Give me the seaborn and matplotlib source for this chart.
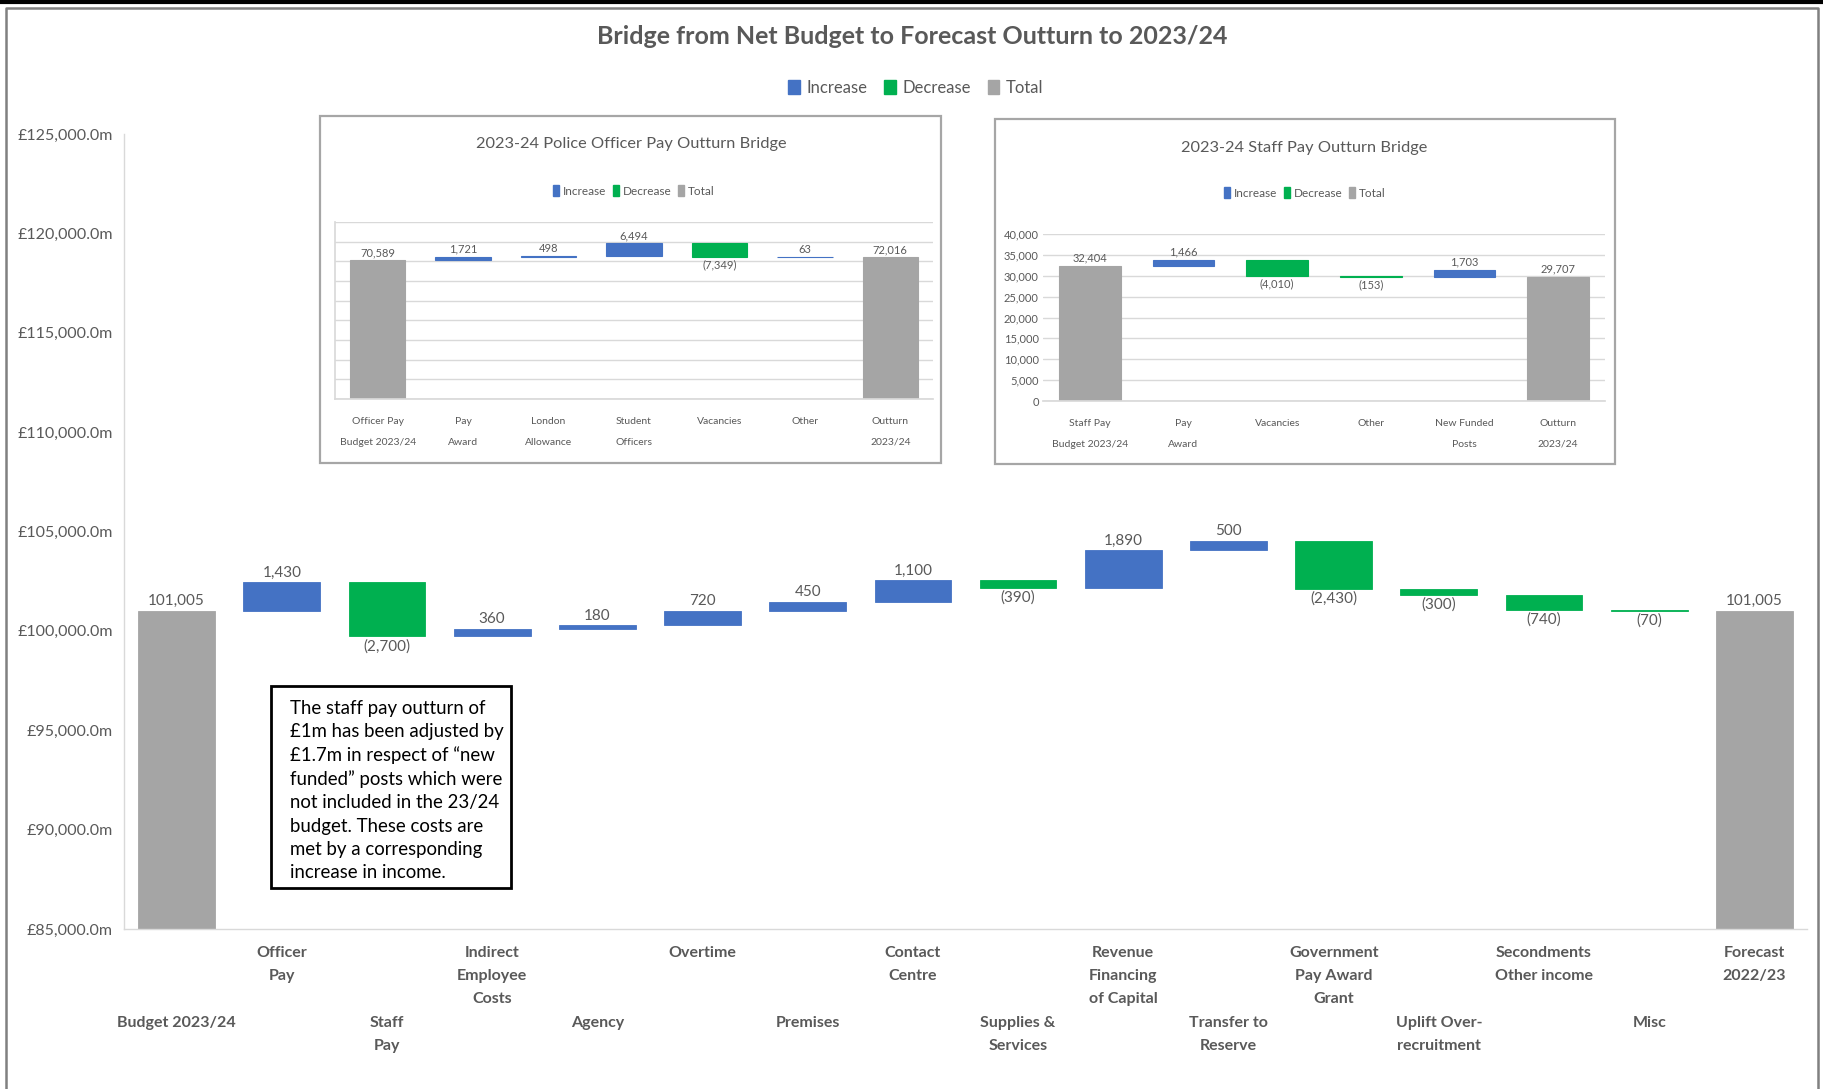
import matplotlib
matplotlib.use("Agg")
import pandas as pd
import matplotlib.pyplot as plt
import seaborn as sns
from matplotlib.patches import Patch, Rectangle
from matplotlib.lines import Line2D
from matplotlib.ticker import FuncFormatter, MultipleLocator

# ---- main bridge ----
main_cats = ["Budget 2023/24", "Officer\nPay", "Staff\nPay", "Indirect\nEmployee\nCosts",
             "Agency", "Overtime", "Premises", "Contact\nCentre", "Supplies &\nServices",
             "Revenue\nFinancing\nof Capital", "Transfer to\nReserve",
             "Government\nPay Award\nGrant", "Uplift Over-\nrecruitment",
             "Secondments\nOther income", "Misc", "Forecast\n2022/23"]
main_vals = [101005, 1430, -2700, 360, 180, 720, 450, 1100, -390, 1890, 500,
             -2430, -300, -740, -70, 101005]
main_kinds = ["total"] + ["delta"] * 14 + ["total"]

# ---- police officer pay inset ----
officer_cats = ["Officer Pay\nBudget 2023/24", "Pay\nAward", "London\nAllowance",
                "Student\nOfficers", "Vacancies", "Other", "Outturn\n2023/24"]
officer_vals = [70589, 1721, 498, 6494, -7349, 63, 72016]
officer_kinds = ["total", "delta", "delta", "delta", "delta", "delta", "total"]

# ---- staff pay inset ----
staff_cats = ["Staff Pay\nBudget 2023/24", "Pay\nAward", "Vacancies", "Other",
              "New Funded\nPosts", "Outturn\n2023/24"]
staff_vals = [32404, 1466, -4010, -153, 1703, 29707]
staff_kinds = ["total", "delta", "delta", "delta", "delta", "total"]

note = ("The staff pay outturn of\n£1m has been adjusted by\n£1.7m in respect of \u201cnew\n"
        "funded\u201d posts which were\nnot included in the 23/24\nbudget. These costs are\n"
        "met by a corresponding\nincrease in income.")

COLORS = {"Increase": "#4472C4", "Decrease": "#00B050", "Total": "#A5A5A5"}
TEXT = "#595959"
W, H = 1824, 1089
NARROW = ["Liberation Sans Narrow", "Lato", "DejaVu Sans"]


def fbox(x0, y0, x1, y1):
    return [x0 / W, 1 - y1 / H, (x1 - x0) / W, (y1 - y0) / H]


def bridge_frame(cats, vals, kinds):
    rows = []
    level = 0
    for c, v, k in zip(cats, vals, kinds):
        if k == "total":
            rows.append((c, "Total", 0, v, v))
            level = v
        elif v >= 0:
            rows.append((c, "Increase", level, v, v))
            level += v
        else:
            rows.append((c, "Decrease", level + v, -v, v))
            level += v
    return pd.DataFrame(rows, columns=["cat", "kind", "bottom", "height", "value"])


def draw_bridge(ax, df, width, fs, family, pad=3, edge=0.8):
    for kind, color in COLORS.items():
        sub = df[df["kind"] == kind]
        if sub.empty:
            continue
        # thin edge in the bar colour keeps very small moves visible
        sns.barplot(data=sub, x="cat", y="height", order=list(df["cat"]), color=color,
                    saturation=1, width=width, bottom=sub["bottom"].to_numpy(),
                    errorbar=None, linewidth=edge, edgecolor=color, ax=ax)
    for i, r in df.iterrows():
        v = r["value"]
        txt = f"{v:,}" if v >= 0 else f"({-v:,})"
        if r["kind"] == "Decrease":
            ax.annotate(txt, (i, r["bottom"]), xytext=(0, -pad), textcoords="offset points",
                        ha="center", va="top", fontsize=fs, color=TEXT, family=family,
                        annotation_clip=False)
        else:
            ax.annotate(txt, (i, r["bottom"] + r["height"]), xytext=(0, pad),
                        textcoords="offset points", ha="center", va="bottom", fontsize=fs,
                        color=TEXT, family=family, annotation_clip=False)
    ax.set(xlabel="", ylabel="")


sns.set_theme(style="white")
plt.rcParams["font.family"] = ["Lato", "DejaVu Sans"]

fig = plt.figure(figsize=(W / 100, H / 100), dpi=100)

# outer frame
fig.add_artist(Line2D([0, 1], [1 - 2 / H, 1 - 2 / H], transform=fig.transFigure,
                      color="black", lw=3))
fig.add_artist(Line2D([6 / W, 6 / W, 1818 / W, 1818 / W], [0, 1 - 8 / H, 1 - 8 / H, 0],
                      transform=fig.transFigure, color="#808080", lw=1.8))

# main chart
ax = fig.add_axes(fbox(124, 134, 1807, 929))
ax.patch.set_alpha(0)
main_df = bridge_frame(main_cats, main_vals, main_kinds)
draw_bridge(ax, main_df, 0.73, 11, ["Lato", "DejaVu Sans"], pad=2, edge=0.6)
ax.set_ylim(85000, 125000)
ax.yaxis.set_major_locator(MultipleLocator(5000))
ax.yaxis.set_major_formatter(FuncFormatter(lambda v, p: f"£{v:,.1f}m"))
ax.tick_params(axis="y", length=0, labelsize=11.5, labelcolor=TEXT, pad=8)
stagger = [("\n\n\n" + c) if i % 2 == 0 else c for i, c in enumerate(main_cats)]
ax.set_xticks(range(len(main_cats)))
ax.set_xticklabels(stagger, fontsize=11.5, fontweight="bold", color=TEXT, linespacing=1.85)
ax.tick_params(axis="x", length=0, pad=12)
for s in ["top", "right"]:
    ax.spines[s].set_visible(False)
for s in ["left", "bottom"]:
    ax.spines[s].set_color("#D9D9D9")
    ax.spines[s].set_linewidth(1)

fig.text(912 / W, 1 - 37 / H, "Bridge from Net Budget to Forecast Outturn to 2023/24",
         ha="center", va="center", fontsize=18, fontweight="bold", color=TEXT)
handles = [Patch(color=c) for c in COLORS.values()]
fig.legend(handles, list(COLORS), loc="center", bbox_to_anchor=(916 / W, 1 - 88 / H), ncol=3,
           frameon=False, fontsize=12, labelcolor=TEXT, handlelength=0.7, handleheight=0.9,
           handletextpad=0.4, columnspacing=1.0)

# note box
fig.add_artist(Rectangle((271 / W, 1 - 888 / H), 240 / W, 202 / H, transform=fig.transFigure,
                         facecolor="white", edgecolor="black", lw=2, zorder=3))
fig.text(290 / W, 1 - 700 / H, note, ha="left", va="top", fontsize=13.4, color="black",
         linespacing=1.43, zorder=4)


def inset(box, plot, title, cats, vals, kinds, ymax, step, show_y, width, title_xy, leg_xy):
    fig.add_artist(Rectangle((box[0] / W, 1 - box[3] / H), (box[2] - box[0]) / W,
                             (box[3] - box[1]) / H, transform=fig.transFigure,
                             facecolor="white", edgecolor="#A6A6A6", lw=1.6, zorder=1))
    iax = fig.add_axes(fbox(*plot), zorder=2)
    df = bridge_frame(cats, vals, kinds)
    draw_bridge(iax, df, width, 8, NARROW, pad=1.5)
    iax.set_ylim(0, ymax)
    iax.yaxis.set_major_locator(MultipleLocator(step))
    iax.grid(axis="y", color="#D9D9D9", lw=1)
    iax.set_axisbelow(True)
    if show_y:
        iax.yaxis.set_major_formatter(FuncFormatter(lambda v, p: f"{v:,.0f}"))
        iax.tick_params(axis="y", length=0, labelsize=8, labelcolor=TEXT, pad=3)
        for lab in iax.get_yticklabels():
            lab.set_family(NARROW)
        iax.spines["left"].set_visible(False)
    else:
        iax.tick_params(axis="y", length=0, labelleft=False)
        iax.spines["left"].set_color("#D9D9D9")
    iax.set_xticks(range(len(cats)))
    iax.set_xticklabels(cats, fontsize=7.5, color=TEXT, linespacing=2.65, family=NARROW)
    iax.tick_params(axis="x", length=0, pad=13)
    for s in ["top", "right"]:
        iax.spines[s].set_visible(False)
    iax.spines["bottom"].set_color("#D9D9D9")
    fig.text(title_xy[0] / W, 1 - title_xy[1] / H, title, ha="center", va="center",
             fontsize=11.8, color=TEXT, family=NARROW, zorder=3)
    fig.legend([Patch(color=c) for c in COLORS.values()], list(COLORS), loc="center",
               bbox_to_anchor=(leg_xy[0] / W, 1 - leg_xy[1] / H), ncol=3, frameon=False,
               prop={"family": NARROW, "size": 8.5}, labelcolor=TEXT, handlelength=0.5,
               handleheight=1.0, handletextpad=0.3, columnspacing=0.6)


inset((320, 116, 941, 463), (335, 222, 933, 399), "2023-24 Police Officer Pay Outturn Bridge",
      officer_cats, officer_vals, officer_kinds, 90000, 10000, False, 0.65,
      (631, 144), (634, 191))
inset((995, 119, 1615, 464), (1043, 234, 1605, 401), "2023-24 Staff Pay Outturn Bridge",
      staff_cats, staff_vals, staff_kinds, 40000, 5000, True, 0.66,
      (1304, 148), (1305, 193))

fig.savefig("out.png", dpi=100)
